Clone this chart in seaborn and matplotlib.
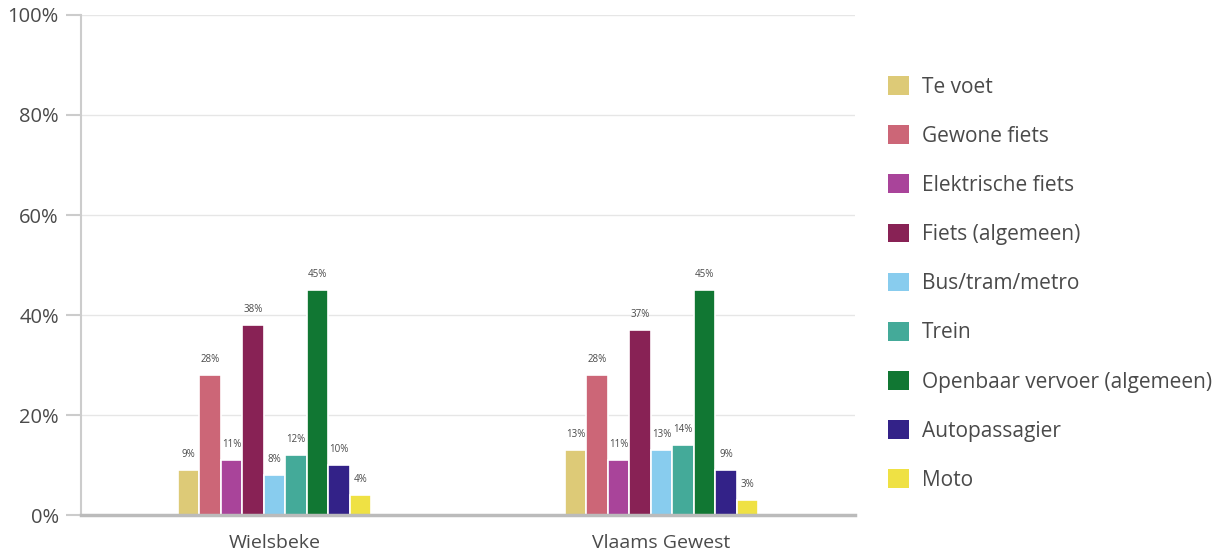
import matplotlib
matplotlib.use("Agg")
import matplotlib.pyplot as plt
import seaborn as sns
import pandas as pd
from matplotlib.patches import Patch

# Share of trips per transport mode
regions = ["Wielsbeke", "Vlaams Gewest"]
modes = ["Te voet", "Gewone fiets", "Elektrische fiets", "Fiets (algemeen)",
         "Bus/tram/metro", "Trein", "Openbaar vervoer (algemeen)",
         "Autopassagier", "Moto"]
wielsbeke = [9, 28, 11, 38, 8, 12, 45, 10, 4]
vlaams_gewest = [13, 28, 11, 37, 13, 14, 45, 9, 3]
y_ticks = [0, 20, 40, 60, 80, 100]

colors = ["#DDCA77", "#CC6677", "#A9449A", "#882255", "#88CCEE",
          "#44AA99", "#117733", "#332288", "#EFE144"]

df = pd.DataFrame({
    "regio": [r for r in regions for _ in modes],
    "modus": modes * len(regions),
    "aandeel": wielsbeke + vlaams_gewest,
})

sns.set_theme(style="white")
plt.rcParams["font.family"] = ["Open Sans", "DejaVu Sans"]
text_color = "#4a4a4a"

fig = plt.figure(figsize=(12.2, 5.51), dpi=100)
ax = fig.add_axes([0.0664, 0.0653, 0.6344, 0.9075])

sns.barplot(data=df, x="regio", y="aandeel", hue="modus", hue_order=modes,
            order=regions, palette=colors, width=0.5, errorbar=None,
            edgecolor="white", linewidth=1.2, saturation=1, ax=ax, legend=False)

for cont in ax.containers:
    ax.bar_label(cont, fmt="%.0f%%", padding=7, fontsize=7, color=text_color)

ax.set_xlim(-0.5, 1.5)
ax.set_ylim(0, 100)
ax.set_yticks(y_ticks)
ax.set_yticklabels([f"{v}%" for v in y_ticks])
ax.set_xlabel("")
ax.set_ylabel("")
ax.yaxis.grid(True, color="#e6e6e6", linewidth=1)
ax.set_axisbelow(True)

for side in ["top", "right"]:
    ax.spines[side].set_visible(False)
ax.spines["left"].set_color("#cccccc")
ax.spines["left"].set_linewidth(1.5)
ax.spines["bottom"].set_color("#bbbbbb")
ax.spines["bottom"].set_linewidth(2.5)

ax.tick_params(axis="y", length=11, width=1.5, color="#cccccc",
               labelsize=14.5, labelcolor=text_color, pad=5, left=True)
ax.tick_params(axis="x", length=0, labelsize=14, labelcolor=text_color, pad=14)

handles = [Patch(facecolor=c, edgecolor="none") for c in colors]
fig.legend(handles, modes, loc="upper left", bbox_to_anchor=(0.7213, 0.877),
           frameon=False, fontsize=15, labelcolor=text_color,
           handlelength=1.0, handleheight=1.0, handletextpad=0.6,
           labelspacing=1.33, borderaxespad=0)

fig.savefig("out.png", dpi=100, facecolor="white")
